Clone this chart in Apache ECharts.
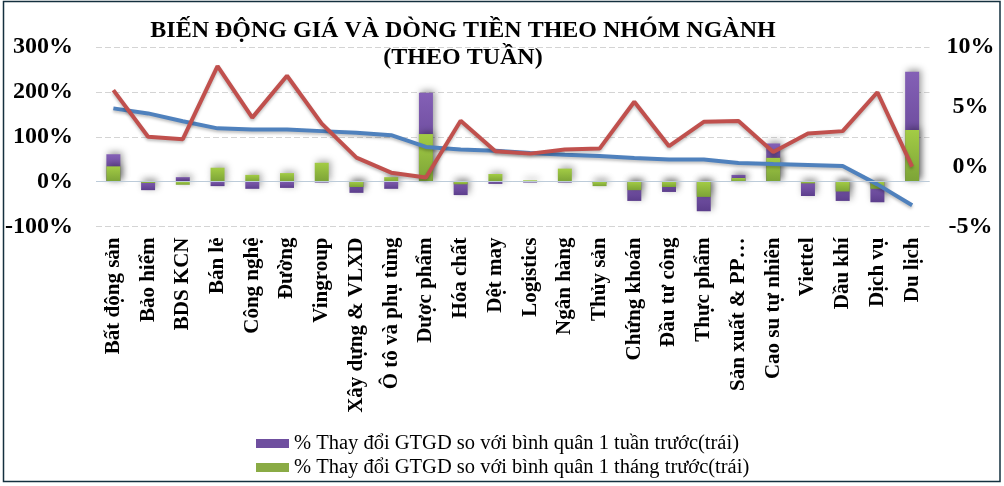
<!DOCTYPE html>
<html>
<head>
<meta charset="utf-8">
<script src="https://cdn.jsdelivr.net/npm/echarts@6/dist/echarts.min.js"></script>
<style>
html,body{margin:0;padding:0;background:#fff;}
#c{width:1004px;height:486px;}
</style>
</head>
<body>
<div id="c"></div>
<script>
const categories = ['Bất động sản','Bảo hiểm','BDS KCN','Bán lẻ','Công nghệ','Đường','Vingroup','Xây dựng & VLXD','Ô tô và phụ tùng','Dược phẩm','Hóa chất','Dệt may','Logistics','Ngân hàng','Thủy sản','Chứng khoán','Đầu tư công','Thực phẩm','Sản xuất & PP…','Cao su tự nhiên','Viettel','Dầu khí','Dịch vụ','Du lịch'];
const weeklyChange = [61, -19, 10, -10, -16, -14, -2, -25, -16, 198, -30, -5, -2, -2, -4, -43, -23, -66, 15, 85, -32, -43, -46, 245];
const monthlyChange = [34, -3, -7, 31, 15, 19, 42, -12, 10, 106, -6, 17, 3, 29, -10, -19, -12, -34, 8, 53, -4, -22, -16, 115];
const redLine = [6.4, 2.5, 2.3, 8.4, 4.1, 7.6, 3.6, 0.76, -0.5, -0.9, 3.84, 1.29, 1.09, 1.43, 1.51, 5.43, 1.71, 3.75, 3.81, 1.23, 2.77, 2.97, 6.22, 0.0];
const blueLine = [4.87, 4.45, 3.8, 3.2, 3.1, 3.1, 2.97, 2.83, 2.63, 1.65, 1.43, 1.32, 1.15, 1.0, 0.9, 0.73, 0.59, 0.59, 0.31, 0.22, 0.14, 0.06, -1.48, -3.22];
const leftTicks = {min: -100, max: 300, interval: 100};
const rightTicks = {min: -5, max: 10, interval: 5};
const nameWeek = '% Thay đổi GTGD so với bình quân 1 tuần trước(trái)';
const nameMonth = '% Thay đổi GTGD so với bình quân 1 tháng trước(trái)';

const FONT = '"Liberation Serif","Times New Roman",serif';
const chart = echarts.init(document.getElementById('c'), null, {renderer: 'canvas'});
const purpleGrad = new echarts.graphic.LinearGradient(0, 0, 0, 1, [
  {offset: 0, color: '#8460b6'}, {offset: 1, color: '#5c3e8c'}]);
const greenGrad = new echarts.graphic.LinearGradient(0, 0, 0, 1, [
  {offset: 0, color: '#a3cc45'}, {offset: 1, color: '#7ca337'}]);

chart.setOption({
  backgroundColor: '#fff',
  animation: false,
  graphic: [
    {type: 'rect', shape: {x: 3.5, y: 1.5, width: 996.5, height: 480}, style: {fill: 'none', stroke: '#14303f', lineWidth: 1.5}, z: 100},
    {type: 'text', x: 463, y: 17, style: {text: 'BIẾN ĐỘNG GIÁ VÀ DÒNG TIỀN THEO NHÓM NGÀNH\n(THEO TUẦN)', font: 'bold 24px ' + FONT, fill: '#000', align: 'center', verticalAlign: 'top', lineHeight: 27}, z: 100}
  ],
  grid: {left: 96, right: 74.5, top: 47, bottom: 259.5, containLabel: false},
  legend: {
    orient: 'vertical', left: 256, top: 433, itemWidth: 33, itemHeight: 9, itemGap: 3, padding: 0,
    textStyle: {fontFamily: FONT, fontSize: 20.5, color: '#000'},
    data: [
      {name: nameWeek, icon: 'rect', itemStyle: {color: '#6f4f9f'}},
      {name: nameMonth, icon: 'rect', itemStyle: {color: '#8aab45'}}
    ]
  },
  xAxis: {
    type: 'category', data: categories,
    axisLine: {show: false, onZero: false}, axisTick: {show: false},
    axisLabel: {rotate: 90, interval: 0, margin: 11, fontFamily: FONT, fontWeight: 'bold', fontSize: 21, color: '#000'}
  },
  yAxis: [
    {type: 'value', min: leftTicks.min, max: leftTicks.max, interval: leftTicks.interval,
     axisLine: {show: false}, axisTick: {show: false},
     axisLabel: {formatter: '{value}%', margin: 23, fontFamily: FONT, fontWeight: 'bold', fontSize: 24, color: '#000'},
     splitLine: {show: true, lineStyle: {color: '#d4d4d4', width: 1, type: [6, 3]}}},
    {type: 'value', min: rightTicks.min, max: rightTicks.max, interval: rightTicks.interval, position: 'right',
     axisLine: {show: false}, axisTick: {show: false},
     axisLabel: {formatter: '{value}%', margin: 41, align: 'center', fontFamily: FONT, fontWeight: 'bold', fontSize: 24, color: '#000'},
     splitLine: {show: false}}
  ],
  series: [
    {name: nameWeek, type: 'bar', yAxisIndex: 0, data: weeklyChange, barWidth: 14, barGap: '-100%',
     itemStyle: {color: purpleGrad, shadowBlur: 7, shadowColor: 'rgba(0,0,0,0.4)', shadowOffsetX: 2, shadowOffsetY: -2},
     markLine: {silent: true, symbol: 'none', label: {show: false}, lineStyle: {color: '#bccbd9', width: 1, type: 'solid'}, data: [{yAxis: 0}]},
     z: 2},
    {name: nameMonth, type: 'bar', yAxisIndex: 0, data: monthlyChange, barWidth: 14, barGap: '-100%',
     itemStyle: {color: greenGrad, shadowBlur: 7, shadowColor: 'rgba(0,0,0,0.35)', shadowOffsetX: 2, shadowOffsetY: -2},
     z: 3},
    {name: 'Giá 2', type: 'line', yAxisIndex: 1, data: blueLine, symbol: 'none',
     lineStyle: {color: '#4f81bd', width: 4, shadowBlur: 3, shadowColor: 'rgba(0,0,0,0.25)', shadowOffsetY: 2}, z: 4},
    {name: 'Giá 1', type: 'line', yAxisIndex: 1, data: redLine, symbol: 'none',
     lineStyle: {color: '#c0504d', width: 4, shadowBlur: 3, shadowColor: 'rgba(0,0,0,0.25)', shadowOffsetY: 2}, z: 5}
  ]
});
</script>
</body>
</html>
